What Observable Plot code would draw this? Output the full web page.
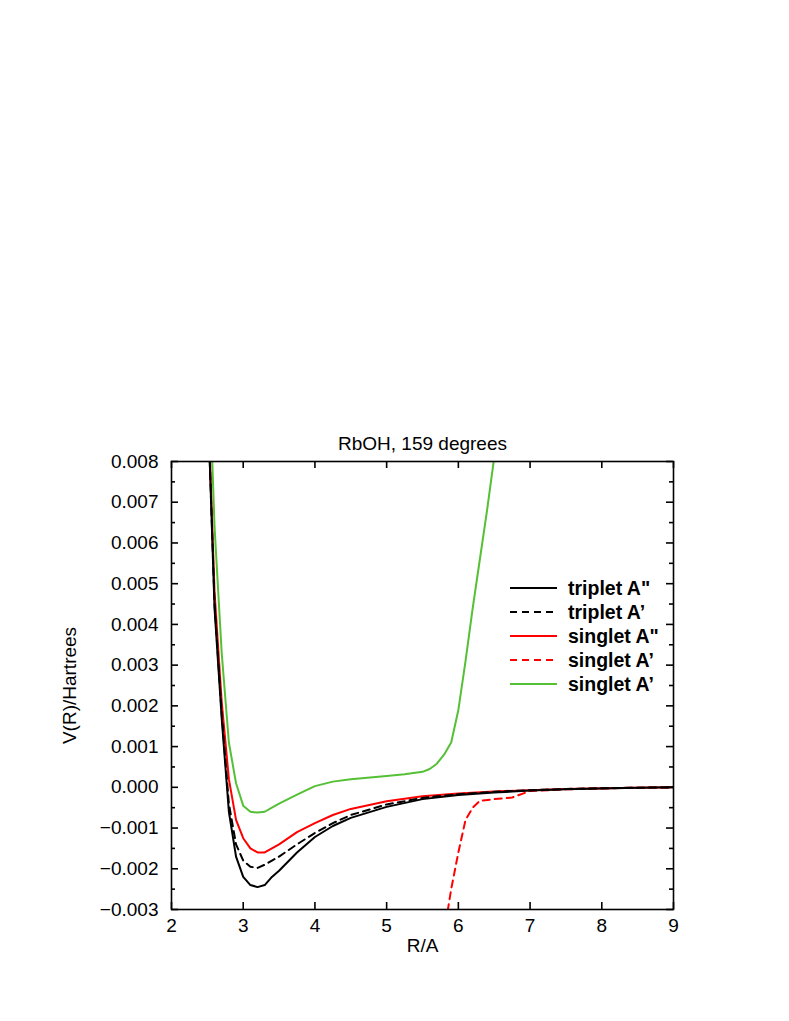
<!DOCTYPE html>
<html>
<head>
<meta charset="utf-8">
<script src="https://cdn.jsdelivr.net/npm/d3@7"></script>
<script src="https://cdn.jsdelivr.net/npm/@observablehq/plot@0.6"></script>
<style>
  html, body { margin: 0; padding: 0; background: #fff; }
  #wrap { position: relative; width: 789px; height: 1021px; font-family: "Liberation Sans", Arial, sans-serif; }
  #legend { position: absolute; left: 510px; top: 576px; font-weight: bold; font-size: 19.5px; color: #000; }
  #legend .row { display: flex; align-items: center; height: 24px; }
  #legend svg { width: 48px; height: 24px; margin-right: 10px; }
</style>
</head>
<body>
<div id="wrap"><div id="legend"></div></div>
<script>
const title = "RbOH, 159 degrees";
const xLabel = "R/A";
const yLabel = "V(R)/Hartrees";
const xTicks = [2, 3, 4, 5, 6, 7, 8, 9];
const yMajor = [-0.003, -0.002, -0.001, 0, 0.001, 0.002, 0.003, 0.004, 0.005, 0.006, 0.007, 0.008];
const yMinor = [-0.0025, -0.0015, -0.0005, 0.0005, 0.0015, 0.0025, 0.0035, 0.0045, 0.0055, 0.0065, 0.0075];

const seriesNames = ["triplet A\"", "triplet A\u2019", "singlet A\"", "singlet A\u2019", "singlet A\u2019"];
const seriesColors = ["#000000", "#000000", "#ff0000", "#ff0000", "#55c035"];
const seriesDashed = [false, true, false, true, false];

const rTripletApp = [2.5, 2.6, 2.7, 2.8, 2.9, 3.0, 3.1, 3.2, 3.3, 3.4, 3.5, 3.75, 4.0, 4.25, 4.5, 5.0, 5.5, 6.0, 6.5, 7.0, 7.5, 8.0, 8.5, 9.0];
const vTripletApp = [0.0098, 0.0044, 0.0017, -0.0006, -0.0017, -0.0022, -0.0024, -0.00245, -0.0024, -0.0022, -0.00205, -0.0016, -0.00122, -0.00095, -0.00075, -0.00048, -0.00029, -0.00019, -0.00013, -0.00008, -0.00005, -0.00003, -0.00001, 0.0];

const rTripletAp = [2.5, 2.6, 2.7, 2.8, 2.9, 3.0, 3.1, 3.2, 3.3, 3.4, 3.5, 3.75, 4.0, 4.25, 4.5, 5.0, 5.5, 6.0, 6.5, 7.0, 7.5, 8.0, 8.5, 9.0];
const vTripletAp = [0.0098, 0.0045, 0.0018, -0.0004, -0.0014, -0.0018, -0.00195, -0.00198, -0.0019, -0.0018, -0.0017, -0.0014, -0.00112, -0.00088, -0.00068, -0.00042, -0.00026, -0.00017, -0.00011, -0.00007, -0.00004, -0.00002, -0.00001, 0.0];

const rSingletApp = [2.5, 2.6, 2.7, 2.8, 2.9, 3.0, 3.1, 3.2, 3.3, 3.4, 3.5, 3.75, 4.0, 4.25, 4.5, 5.0, 5.5, 6.0, 6.5, 7.0, 7.5, 8.0, 8.5, 9.0];
const vSingletApp = [0.0099, 0.0048, 0.0021, 0.0002, -0.0008, -0.00125, -0.0015, -0.0016, -0.0016, -0.0015, -0.0014, -0.0011, -0.00088, -0.00068, -0.00053, -0.00034, -0.00022, -0.00015, -0.0001, -0.00007, -0.00004, -0.00002, -0.00001, 0.0];

const rSingletAp = [5.75, 5.8, 5.9, 6.0, 6.1, 6.2, 6.3, 6.5, 6.75, 7.0, 7.5, 8.0, 8.5, 9.0];
const vSingletAp = [-0.0045, -0.0036, -0.0025, -0.0016, -0.0008, -0.0005, -0.00033, -0.00029, -0.00025, -0.00009, -0.00005, -0.00003, -0.00001, 0.0];

const rSingletAp2 = [2.5, 2.6, 2.7, 2.8, 2.9, 3.0, 3.1, 3.2, 3.3, 3.4, 3.5, 3.75, 4.0, 4.25, 4.5, 5.0, 5.25, 5.5, 5.6, 5.7, 5.8, 5.9, 6.0, 6.1, 6.2, 6.3, 6.4, 6.5];
const vSingletAp2 = [0.0115, 0.0064, 0.0033, 0.0011, 0.0001, -0.00045, -0.0006, -0.00062, -0.0006, -0.0005, -0.0004, -0.00018, 0.00003, 0.00014, 0.0002, 0.00028, 0.00032, 0.00038, 0.00045, 0.00058, 0.0008, 0.0011, 0.0019, 0.0031, 0.0044, 0.0056, 0.0068, 0.0081];

const series = [
  [rTripletApp, vTripletApp],
  [rTripletAp, vTripletAp],
  [rSingletApp, vSingletApp],
  [rSingletAp, vSingletAp],
  [rSingletAp2, vSingletAp2]
];

const W = 789, H = 1021;
const mT = 461, mL = 171, mR = 116, mB = 112;
const fw = W - mL - mR, fh = H - mT - mB;
const tickLen = 7, minorLen = 4;
const fs = 19;

const lineMarks = series.map(([rs, vs], i) =>
  Plot.line(rs.map((r, j) => ({r, v: vs[j]})), {
    x: "r", y: "v",
    stroke: seriesColors[i],
    strokeWidth: 2,
    strokeDasharray: seriesDashed[i] ? "7,5" : null,
    clip: true
  })
);

const chart = Plot.plot({
  width: W, height: H,
  marginTop: mT, marginLeft: mL, marginRight: mR, marginBottom: mB,
  style: {fontFamily: "Liberation Sans, Arial, sans-serif", fontSize: fs + "px", color: "#000", background: "#fff"},
  x: {domain: [2, 9], axis: null},
  y: {domain: [-0.003, 0.008], axis: null},
  marks: [
    ...lineMarks.slice().reverse(),
    Plot.frame({stroke: "#000", strokeWidth: 1.6}),
    Plot.tickY(yMajor, {y: d => d, insetRight: fw - tickLen, stroke: "#000", strokeWidth: 1.6}),
    Plot.tickY(yMajor, {y: d => d, insetLeft: fw - tickLen, stroke: "#000", strokeWidth: 1.6}),
    Plot.tickY(yMinor, {y: d => d, insetRight: fw - minorLen, stroke: "#000", strokeWidth: 1.6}),
    Plot.tickY(yMinor, {y: d => d, insetLeft: fw - minorLen, stroke: "#000", strokeWidth: 1.6}),
    Plot.tickX(xTicks, {x: d => d, insetTop: fh - tickLen, stroke: "#000", strokeWidth: 1.6}),
    Plot.tickX(xTicks, {x: d => d, insetBottom: fh - tickLen, stroke: "#000", strokeWidth: 1.6}),
    Plot.axisY(yMajor, {tickSize: 0, tickPadding: 13, tickFormat: d3.format(".3f"), label: yLabel, labelAnchor: "center", labelArrow: "none", labelOffset: 109, fontSize: fs, fill: "#000"}),
    Plot.axisX(xTicks, {tickSize: 0, tickPadding: 9, tickFormat: d => String(d), label: xLabel, labelAnchor: "center", labelArrow: "none", labelOffset: 42, fontSize: fs, fill: "#000"}),
    Plot.text([title], {frameAnchor: "top", dy: -25, fontSize: fs, fill: "#000"})
  ]
});
document.getElementById("wrap").prepend(chart);
chart.style.position = "absolute";
chart.style.left = "0";
chart.style.top = "0";

const legend = document.getElementById("legend");
seriesNames.forEach((name, i) => {
  const row = document.createElement("div");
  row.className = "row";
  row.innerHTML = `<svg viewBox="0 0 48 24"><line x1="0" y1="12" x2="47" y2="12" stroke="${seriesColors[i]}" stroke-width="2" ${seriesDashed[i] ? 'stroke-dasharray="7,5"' : ''}/></svg><span>${name}</span>`;
  legend.appendChild(row);
});
</script>
</body>
</html>
